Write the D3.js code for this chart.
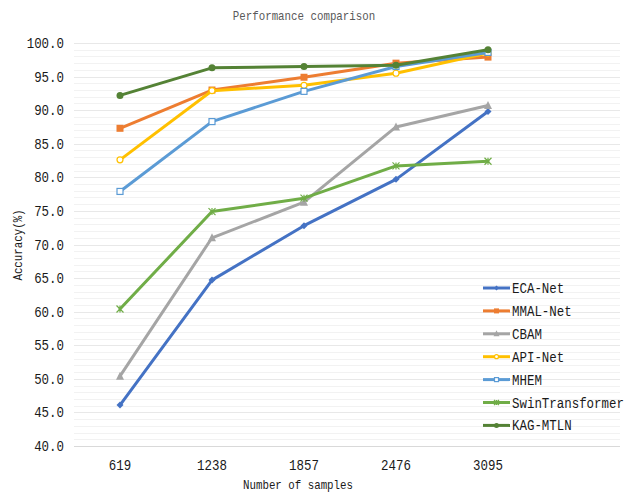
<!DOCTYPE html>
<html>
<head>
<meta charset="utf-8">
<script src="https://cdn.jsdelivr.net/npm/d3@7"></script>
<style>
  html, body { margin: 0; padding: 0; background: #fff; }
  svg text { font-family: 'Liberation Mono', 'DejaVu Sans Mono', monospace; }
</style>
</head>
<body>
<svg id="chart" width="625" height="492"></svg>
<script>
// categories (number of samples)
const samples = ['619', '1238', '1857', '2476', '3095'];

// accuracy (%) per model
const ecaNet   = [46.1, 64.7, 72.8, 79.7, 89.8];
const mmalNet  = [87.3, 93.0, 94.9, 97.0, 97.9];
const cbam     = [50.4, 71.0, 76.3, 87.5, 90.7];
const apiNet   = [82.6, 92.9, 93.7, 95.5, 98.5];
const mhem     = [77.9, 88.3, 92.8, 96.5, 98.6];
const swinT    = [60.4, 74.9, 76.9, 81.7, 82.4];
const kagMtln  = [92.2, 96.3, 96.5, 96.7, 99.0];

const yTicks = [40, 45, 50, 55, 60, 65, 70, 75, 80, 85, 90, 95, 100];

const series = [
  { name: 'ECA-Net',         values: ecaNet,  color: '#4472C4', marker: 'diamond' },
  { name: 'MMAL-Net',        values: mmalNet, color: '#ED7D31', marker: 'square' },
  { name: 'CBAM',            values: cbam,    color: '#A5A5A5', marker: 'triangle' },
  { name: 'API-Net',         values: apiNet,  color: '#FFC000', marker: 'circleOpen' },
  { name: 'MHEM',            values: mhem,    color: '#5B9BD5', marker: 'squareOpen' },
  { name: 'SwinTransformer', values: swinT,   color: '#70AD47', marker: 'star' },
  { name: 'KAG-MTLN',        values: kagMtln, color: '#548235', marker: 'circle' },
];

const svg = d3.select('#chart');
const plotLeft = 74, plotRight = 534, plotTop = 43, plotBottom = 446;
const gridRight = 620;

const x = d3.scalePoint().domain(samples).range([plotLeft, plotRight]).padding(0.5);
const y = d3.scaleLinear().domain([40, 100]).range([plotBottom, plotTop]);

// narrow, tall glyphs like the original CJK UI font: squeeze a mono font horizontally
function label(parent, tx, ty, str, size, anchor, fill, rot) {
  const sx = 0.83;
  return parent.append('text')
    .attr('transform', `translate(${tx},${ty})` + (rot ? ` rotate(${rot})` : '') + ` scale(${sx},1)`)
    .attr('text-anchor', anchor)
    .attr('font-size', size)
    .attr('fill', fill)
    .text(str);
}

// title
label(svg, 304, 20, 'Performance comparison', 13, 'middle', '#595959');

// minor + major gridlines (every 1 unit)
svg.append('g').selectAll('line')
  .data(d3.range(41, 101))
  .join('line')
  .attr('x1', plotLeft).attr('x2', gridRight)
  .attr('y1', d => Math.round(y(d)) + 0.5)
  .attr('y2', d => Math.round(y(d)) + 0.5)
  .attr('stroke', d => d % 5 === 0 ? '#e8e8e8' : '#f2f2f2')
  .attr('stroke-width', 1);

// x axis line
svg.append('line')
  .attr('x1', plotLeft).attr('x2', gridRight)
  .attr('y1', Math.round(y(40)) + 0.5).attr('y2', Math.round(y(40)) + 0.5)
  .attr('stroke', '#d9d9d9');

// y tick labels
const yg = svg.append('g');
yTicks.forEach(t => label(yg, 64, y(t) + 5, t.toFixed(1), 15, 'end', '#1a1a1a'));

// x tick labels
const xg = svg.append('g');
samples.forEach(s => label(xg, x(s), 470, s, 15, 'middle', '#1a1a1a'));

// axis titles
label(svg, 298, 489, 'Number of samples', 13, 'middle', '#1a1a1a');
label(svg, 22, 245, 'Accuracy(%)', 13, 'middle', '#1a1a1a', -90);

function drawMarker(g, type, color, cx, cy, s) {
  if (type === 'diamond') {
    g.append('path').attr('d', `M${cx},${cy - s}L${cx + s},${cy}L${cx},${cy + s}L${cx - s},${cy}Z`).attr('fill', color);
  } else if (type === 'square') {
    g.append('rect').attr('x', cx - s).attr('y', cy - s).attr('width', 2 * s).attr('height', 2 * s).attr('fill', color);
  } else if (type === 'squareOpen') {
    g.append('rect').attr('x', cx - s + 0.5).attr('y', cy - s + 0.5).attr('width', 2 * s - 1).attr('height', 2 * s - 1)
      .attr('fill', '#fff').attr('stroke', color).attr('stroke-width', 1.2);
  } else if (type === 'triangle') {
    g.append('path').attr('d', `M${cx},${cy - s - 1}L${cx + s + 0.5},${cy + s}L${cx - s - 0.5},${cy + s}Z`).attr('fill', color);
  } else if (type === 'circleOpen') {
    g.append('circle').attr('cx', cx).attr('cy', cy).attr('r', s - 0.5)
      .attr('fill', '#fff').attr('stroke', color).attr('stroke-width', 1.2);
  } else if (type === 'circle') {
    g.append('circle').attr('cx', cx).attr('cy', cy).attr('r', s).attr('fill', color);
  } else if (type === 'star') {
    g.append('path')
      .attr('d', `M${cx - s},${cy - s}L${cx + s},${cy + s}M${cx - s},${cy + s}L${cx + s},${cy - s}M${cx},${cy - s}L${cx},${cy + s}`)
      .attr('stroke', color).attr('stroke-width', 1.2).attr('fill', 'none');
  }
}

const line = d3.line().x((d, i) => x(samples[i])).y(d => y(d));

const plot = svg.append('g');
series.forEach(s => {
  const g = plot.append('g');
  g.append('path')
    .datum(s.values)
    .attr('d', line)
    .attr('fill', 'none')
    .attr('stroke', s.color)
    .attr('stroke-width', 3)
    .attr('stroke-linejoin', 'round')
    .attr('stroke-linecap', 'round');
  s.values.forEach((v, i) => drawMarker(g, s.marker, s.color, x(samples[i]), y(v), 3.5));
});

// legend
const legend = svg.append('g');
series.forEach((s, i) => {
  const ly = 288 + i * 22.9;
  const g = legend.append('g');
  g.append('line')
    .attr('x1', 483).attr('x2', 510)
    .attr('y1', ly).attr('y2', ly)
    .attr('stroke', s.color).attr('stroke-width', 3);
  drawMarker(g, s.marker, s.color, 496.5, ly, 2.5);
  label(g, 512, ly + 5, s.name, 15, 'start', '#1a1a1a');
});
</script>
</body>
</html>
